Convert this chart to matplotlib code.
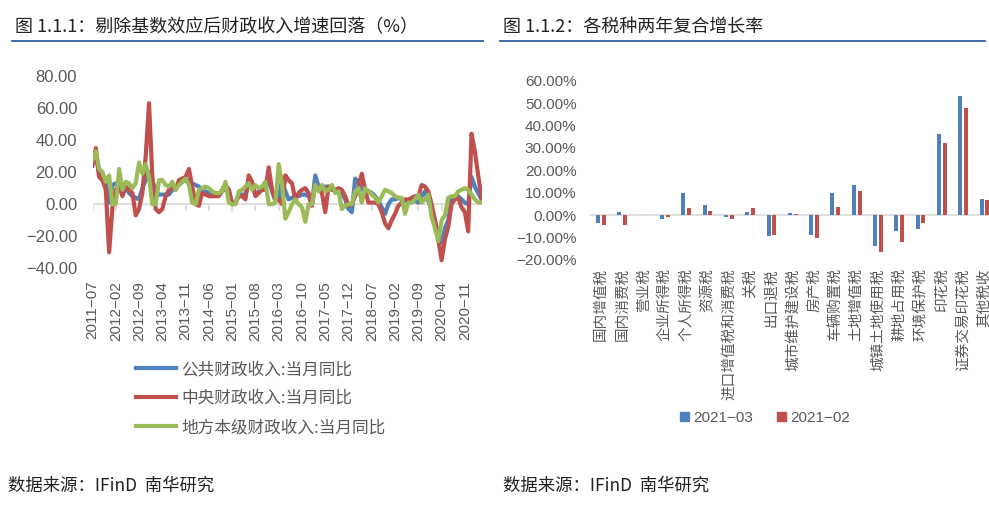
import numpy as np
import pandas as pd
import matplotlib
matplotlib.use("Agg")
import matplotlib.pyplot as plt
from matplotlib.lines import Line2D
from matplotlib.patches import Patch

plt.rcParams['font.family'] = ['Noto Sans CJK SC', 'DejaVu Sans']

# ---- 左图：财政收入当月同比 (%) ----
MONTHS = pd.date_range("2011-07-01", periods=118, freq="MS")
public = [
    26, 32, 18, 15, 13, 1, 12, 13, 10, 8,
    10, 7, 5, 4, 3, 10, 15, 20, 15, 8,
    6, 6, 6, 6, 9, 10, 12, 14, 15, 15,
    13, 12, 11, 8, 8, 7, 7, 6, 6, 8,
    10, 9, 0, 1, 6, 6, 6, 15, 12, 6,
    8, 9, 9, 16, 8, 2, 3, 15, 8, 3,
    4, 5, 5, 6, 6, 5, 0, 18, 11, 9,
    11, 11, 9, 9, 7, 7, 3, -3, -5, 16,
    14, 9, 9, 8, 7, 5, 2, -2, -6, 0,
    3, 3, 4, 3, 2, 2, 2, 2, 1, 5,
    8, 2, -3, -10, -19, -24, -15, -10, 3, 4,
    5, 3, 1, 0, 17, 11, 7, 3,
]
central = [
    24, 35, 17, 15, 9, -30, -2, 9, 12, 5,
    11, 9, 7, -7, -3, 7, 30, 63, 17, -3,
    -5, -3, 5, 9, 11, 9, 15, 16, 17, 22,
    11, 0, -1, 7, 6, 5, 5, 5, 5, 9,
    12, 9, 0, 1, 5, 5, 3, 18, 14, 5,
    7, 9, 9, 23, 9, 3, 3, 0, 18, 15,
    13, 3, 7, 9, 10, 7, -1, 12, 9, 7,
    -5, 11, 9, 9, 10, 9, 5, -1, 0, 5,
    11, 19, 9, 1, 1, 1, 0, -5, -12, -15,
    -10, -6, -1, 1, 3, 3, 4, 5, 5, 12,
    11, 8, 0, -10, -22, -35, -22, -14, 0, 3,
    4, -2, -5, -17, 44, 33, 18, 4,
]
local = [
    28, 33, 22, 20, 14, 18, 0, 0, 22, 9,
    14, 13, 10, 13, 26, 19, 25, 17, 0, 0,
    15, 15, 12, 11, 14, 9, 12, 14, 16, 12,
    1, 0, 9, 10, 11, 10, 8, 7, 7, 8,
    14, 1, 0, 0, 8, 9, 11, 13, 9, 12,
    10, 11, 14, 0, 0, 1, 25, 13, -9, -5,
    0, 3, 0, -2, -11, 0, 0, 12, 8, 12,
    8, 9, 12, 7, 8, -3, -1, 0, 0, 8,
    10, 1, 10, 8, 6, 4, 1, 5, 9, 8,
    7, 5, 4, 4, -6, 1, 1, 3, 6, 1,
    3, 6, -8, -15, -23, -10, -7, 4, 5, 5,
    8, 9, 10, 9, 6, 3, 1, 1,
]
SERIES_NAMES = ["公共财政收入:当月同比", "中央财政收入:当月同比", "地方本级财政收入:当月同比"]
LEFT_YTICKS = [80, 60, 40, 20, 0, -20, -40]

# ---- 右图：各税种两年复合增长率 (%) ----
TAXES = ["国内增值税", "国内消费税", "营业税", "企业所得税", "个人所得税", "资源税",
         "进口增值税和消费税", "关税", "出口退税", "城市维护建设税", "房产税",
         "车辆购置税", "土地增值税", "城镇土地使用税", "耕地占用税", "环境保护税",
         "印花税", "证券交易印花税", "其他税收"]
mar_2021 = [-3.3, 1.5, 0, -1.5, 10.0, 4.6, -1.0, 1.5, -9.1, 1.0, -8.7,
            10.0, 13.6, -13.6, -6.9, -6.0, 36.1, 53.1, 7.3]
feb_2021 = [-4.3, -4.3, 0, -1.0, 3.4, 1.9, -1.9, 3.0, -8.7, 0.7, -10.0,
            3.7, 10.9, -16.3, -11.8, -3.4, 32.0, 47.8, 6.9]
RIGHT_YTICKS = [60, 50, 40, 30, 20, 10, 0, -10, -20]

BLUE, RED, GREEN = "#4F81BD", "#C0504D", "#9BBB59"
TXT = "#595959"
GRID = "#D9D9D9"
NUM_FONT = ["Liberation Sans", "Noto Sans CJK SC"]

fig = plt.figure(figsize=(9.89, 5.07), dpi=100)
W, H = 989, 507


def fx(px):
    return px / W


def fy(py):
    return 1 - py / H


# 标题与分隔线
fig.text(fx(15), fy(27), "图 1.1.1：剔除基数效应后财政收入增速回落（%）", fontsize=13,
         color="#222222", va="center", ha="left")
fig.text(fx(503), fy(27), "图 1.1.2：各税种两年复合增长率", fontsize=13,
         color="#222222", va="center", ha="left")
for x0, x1 in [(12, 483), (500, 985)]:
    fig.add_artist(Line2D([fx(x0), fx(x1)], [fy(41), fy(41)], color="#2F5F9E",
                          lw=1.3, transform=fig.transFigure))
for x0 in (8, 503):
    fig.text(fx(x0), fy(486), "数据来源：IFinD  南华研究", fontsize=12.5, color="#222222",
             va="center", ha="left")

# ---- 左图 ----
ax = fig.add_axes([fx(92.5), fy(268.3), fx(389), fy(76) - fy(268.3)])
x = np.arange(len(MONTHS))
ax.plot(x, public, color=BLUE, lw=3, solid_joinstyle="round", label=SERIES_NAMES[0])
ax.plot(x, central, color=RED, lw=3, solid_joinstyle="round", label=SERIES_NAMES[1])
ax.plot(x, local, color=GREEN, lw=3, solid_joinstyle="round", label=SERIES_NAMES[2])
ax.axhline(0, color=GRID, lw=1.2, zorder=0)
tick_idx = x[::7]
ax.plot(tick_idx, np.zeros(len(tick_idx)), ls="none", marker=3, ms=5, color=GRID,
        mew=1.2, zorder=0)
ax.set_xlim(0, len(MONTHS) - 1)
ax.set_ylim(-40, 80)
ax.set_yticks(LEFT_YTICKS)
ax.set_yticklabels([f"{v:.2f}".replace("-", "\u2212") for v in LEFT_YTICKS],
                   family=NUM_FONT, fontsize=12, color=TXT)
ax.set_xticks(tick_idx)
ax.set_xticklabels([m.strftime("%Y") + "\u2212" + m.strftime("%m") for m in MONTHS[::7]],
                   rotation=90, family=NUM_FONT, fontsize=11, color=TXT)
ax.tick_params(axis="y", length=0, pad=11)
ax.tick_params(axis="x", length=0, pad=9)
for s in ax.spines.values():
    s.set_visible(False)

leg = fig.legend(handles=ax.get_lines()[:3], labels=SERIES_NAMES, loc="upper left",
                 bbox_to_anchor=(fx(136), fy(361)), frameon=False, fontsize=12,
                 handlelength=2.4, handletextpad=0.3, labelspacing=0.72,
                 borderpad=0, borderaxespad=0)
for t in leg.get_texts():
    t.set_color(TXT)

# ---- 右图 ----
ax2 = fig.add_axes([fx(590.4), fy(260), fx(19 * 21.3), fy(80.7) - fy(260)])
pos = np.arange(len(TAXES))
ax2.bar(pos - 0.135, mar_2021, width=0.19, color=BLUE, label="2021\u221203")
ax2.bar(pos + 0.135, feb_2021, width=0.19, color=RED, label="2021\u221202")
ax2.axhline(0, color=GRID, lw=1.2, zorder=0)
ax2.set_xlim(-0.5, len(TAXES) - 0.5)
ax2.set_ylim(-20, 60)
ax2.set_yticks(RIGHT_YTICKS)
ax2.set_yticklabels([f"{v:.2f}%".replace("-", "\u2212") for v in RIGHT_YTICKS],
                    family=NUM_FONT, fontsize=11, color=TXT)
ax2.set_xticks(pos)
ax2.set_xticklabels(TAXES, rotation=90, fontsize=10.5, color=TXT)
ax2.tick_params(axis="y", length=0, pad=10)
ax2.tick_params(axis="x", length=0, pad=6)
for s in ax2.spines.values():
    s.set_visible(False)

leg2 = fig.legend(handles=[Patch(color=BLUE), Patch(color=RED)],
                  labels=["2021\u221203", "2021\u221202"], loc="center left",
                  bbox_to_anchor=(fx(680), fy(418)), frameon=False, ncol=2,
                  prop={"family": NUM_FONT, "size": 11}, handlelength=0.6,
                  handleheight=0.6, handletextpad=0.25, columnspacing=1.6,
                  borderpad=0, borderaxespad=0)
for t in leg2.get_texts():
    t.set_color(TXT)

fig.savefig("out.png", dpi=100)
